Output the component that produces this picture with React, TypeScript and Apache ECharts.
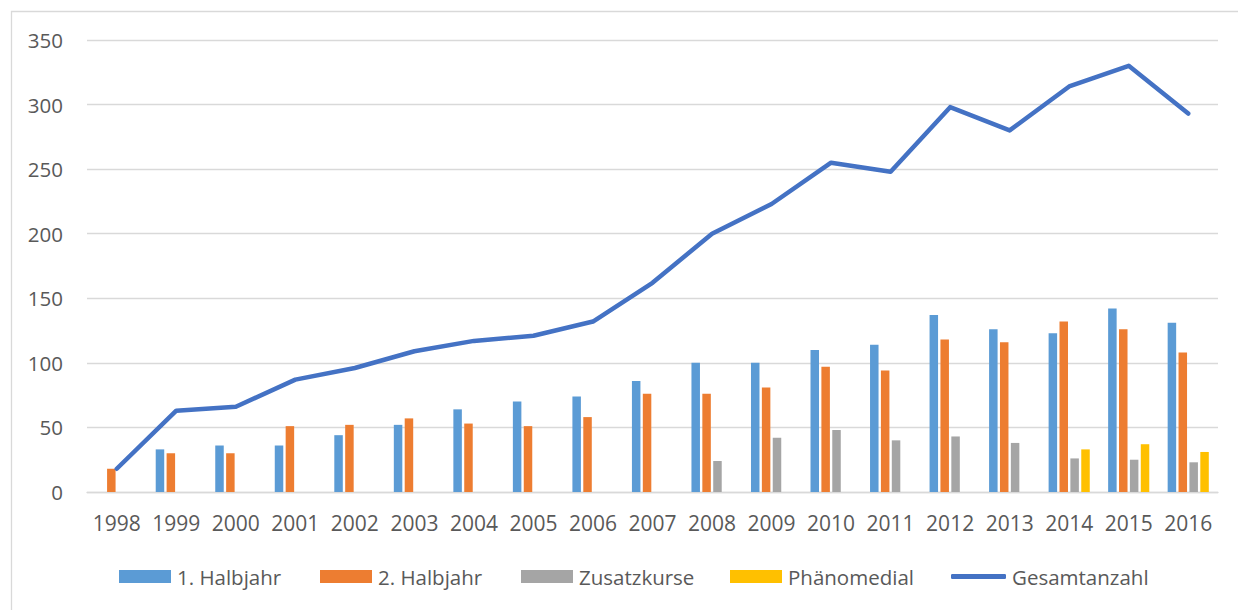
import React, { useEffect, useRef } from "react";
import * as echarts from "echarts";

const years = ["1998","1999","2000","2001","2002","2003","2004","2005","2006","2007","2008","2009","2010","2011","2012","2013","2014","2015","2016"];
const halbjahr1 = [null, 33, 36, 36, 44, 52, 64, 70, 74, 86, 100, 100, 110, 114, 137, 126, 123, 142, 131];
const halbjahr2 = [18, 30, 30, 51, 52, 57, 53, 51, 58, 76, 76, 81, 97, 94, 118, 116, 132, 126, 108];
const zusatzkurse = [null, null, null, null, null, null, null, null, null, null, 24, 42, 48, 40, 43, 38, 26, 25, 23];
const phaenomedial = [null, null, null, null, null, null, null, null, null, null, null, null, null, null, null, null, 33, 37, 31];
const gesamtanzahl = [18, 63, 66, 87, 96, 109, 117, 121, 132, 162, 200, 223, 255, 248, 298, 280, 314, 330, 293];
const yTicks = { min: 0, max: 350, interval: 50 };

const FONT = "'Open Sans', 'Noto Sans', sans-serif";
const TEXT = "#595959";
const GRID = "#D9D9D9";

export default function App() {
  const ref = useRef<HTMLDivElement>(null);
  useEffect(() => {
    if (!ref.current) return;
    const chart = echarts.init(ref.current, null, { renderer: "svg" });
    const barCommon = { type: "bar", barWidth: 8.5, barGap: "28%" };
    const legendBase = {
      top: 566,
      padding: 0,
      itemWidth: 52,
      itemHeight: 13,
      itemGap: 0,
      textStyle: { color: TEXT, fontFamily: FONT, fontSize: 20.5, padding: [0, 0, 0, 1] },
    };
    chart.setOption({
      animation: false,
      backgroundColor: "#ffffff",
      textStyle: { fontFamily: FONT },
      grid: { left: 87, right: 20, top: 40, bottom: 118, containLabel: false },
      graphic: [
        {
          type: "rect",
          shape: { x: 11.5, y: 11.5, width: 1300, height: 700 },
          style: { fill: "none", stroke: GRID, lineWidth: 1.3 },
          silent: true,
        },
      ],
      legend: [
        { ...legendBase, left: 119, data: [{ name: "1. Halbjahr", icon: "rect" }] },
        { ...legendBase, left: 320, data: [{ name: "2. Halbjahr", icon: "rect" }] },
        { ...legendBase, left: 521, data: [{ name: "Zusatzkurse", icon: "rect" }] },
        { ...legendBase, left: 730, data: [{ name: "Phänomedial", icon: "rect" }] },
        {
          ...legendBase,
          left: 951,
          itemWidth: 55,
          itemHeight: 5,
          data: [{ name: "Gesamtanzahl", icon: "roundRect" }],
        },
      ],
      xAxis: {
        type: "category",
        data: years,
        axisLine: { show: true, lineStyle: { color: GRID, width: 1.3 } },
        axisTick: { show: false },
        axisLabel: { color: TEXT, fontFamily: FONT, fontSize: 21, margin: 20, interval: 0, hideOverlap: false },
      },
      yAxis: {
        type: "value",
        min: yTicks.min,
        max: yTicks.max,
        interval: yTicks.interval,
        axisLine: { show: false },
        axisTick: { show: false },
        splitLine: { lineStyle: { color: GRID, width: 1.3 } },
        axisLabel: { color: TEXT, fontFamily: FONT, fontSize: 20.5, margin: 24 },
      },
      series: [
        { ...barCommon, name: "1. Halbjahr", data: halbjahr1, itemStyle: { color: "#5B9BD5" } },
        { ...barCommon, name: "2. Halbjahr", data: halbjahr2, itemStyle: { color: "#ED7D31" } },
        { ...barCommon, name: "Zusatzkurse", data: zusatzkurse, itemStyle: { color: "#A5A5A5" } },
        { ...barCommon, name: "Phänomedial", data: phaenomedial, itemStyle: { color: "#FFC000" } },
        {
          type: "line",
          name: "Gesamtanzahl",
          data: gesamtanzahl,
          symbol: "none",
          itemStyle: { color: "#4472C4" },
          lineStyle: { color: "#4472C4", width: 4.5, cap: "round", join: "round" },
          z: 5,
        },
      ],
    });
    return () => chart.dispose();
  }, []);
  return (
    <div
      ref={ref}
      style={{ position: "absolute", left: 0, top: 0, width: 1238, height: 610, background: "#fff" }}
    />
  );
}
